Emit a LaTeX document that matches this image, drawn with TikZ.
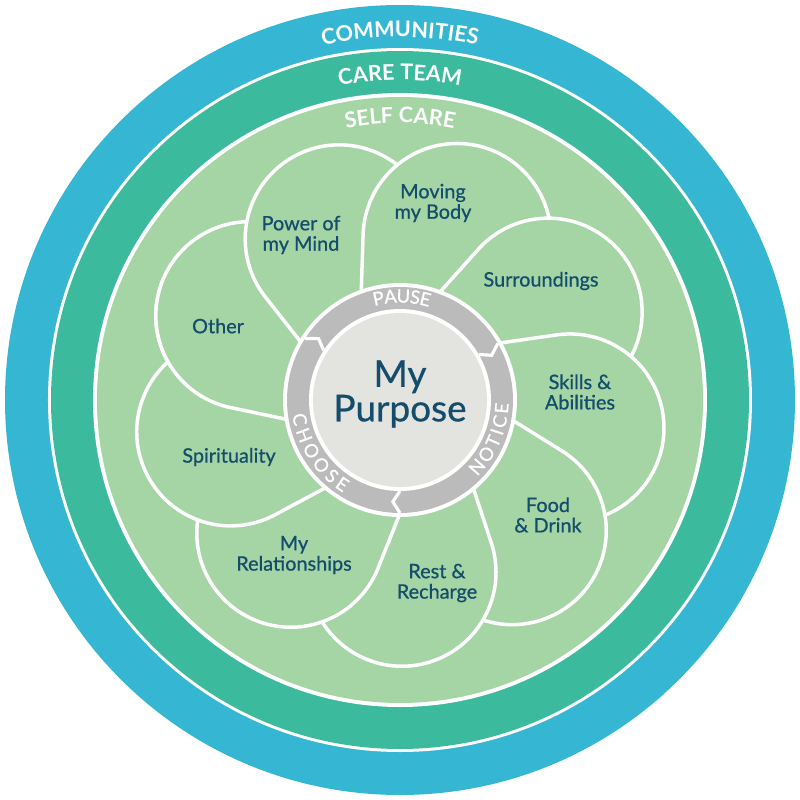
\documentclass[tikz,border=0pt]{standalone}
\usepackage{fontspec}
\setmainfont{Lato}
\newfontfamily\medfont{Lato}[FakeBold=0.7]
\usetikzlibrary{decorations.text}
\definecolor{commblue}{RGB}{53,183,211}
\definecolor{careteal}{RGB}{59,186,157}
\definecolor{selfgreen}{RGB}{165,212,165}
\definecolor{ringgray}{RGB}{187,187,187}
\definecolor{discgray}{RGB}{227,227,223}
\definecolor{ink}{RGB}{20,76,108}
\newcommand{\petalpath}{(35.5:116) -- (149.7,81.3) arc[start angle=103.7,end angle=-125,radius=94] -- (-15:108) arc[start angle=-15,end angle=35.5,radius=108] -- cycle}
\tikzset{petal/.style={fill=selfgreen,draw=white,line width=2pt,line join=round},
 lbl/.style={align=center,text=ink,font=\medfont\fontsize{11.3}{11.6}\selectfont},
 rtxt/.style={text=white,inner sep=0pt,font=\medfont\fontsize{10.5}{11}\selectfont},
 band/.style={decorate,decoration={text along path,text align=center,text color=white,
   text={|\bfseries\fontsize{12.3}{13}\selectfont|#1}}},
 notch/.style={draw=white,line width=1.8pt,line join=miter}}

\begin{document}
\begin{tikzpicture}[x=0.2mm,y=0.2mm]
\useasboundingbox (-400,-400) rectangle (400,400);
% rings
\fill[commblue] (0,0) circle[radius=395];\fill[white] (0,0) circle[radius=352];
\fill[careteal] (0,0) circle[radius=349];\fill[white] (0,0) circle[radius=307];
\fill[selfgreen] (0,0) circle[radius=303];
\path[band=COMMUNITIES] (135:363) arc[start angle=135,end angle=45,radius=363];
\path[band=CARE TEAM] (135:320) arc[start angle=135,end angle=45,radius=320];
\path[band=SELF CARE] (135:277) arc[start angle=135,end angle=45,radius=277];
% petals, each one over its neighbour
\foreach \a in {154,114,...,-166} \draw[petal,rotate=\a] \petalpath;
\begin{scope}
\clip (0,0) -- (153:330) arc[start angle=153,end angle=260,radius=330] -- cycle;
\draw[petal,rotate=154] \petalpath;
\end{scope}
% centre
\fill[white] (0,0) circle[radius=117];\fill[ringgray] (0,0) circle[radius=113];
\fill[white] (0,0) circle[radius=91];\fill[discgray] (0,0) circle[radius=87];
\foreach \a in {147,30,-90} \draw[notch] (\a:113) -- ({\a-4}:102) -- (\a:91);
\foreach \ch/\a in {P/102,A/95.3,U/88.1,S/81.6,E/75.9} \node[rtxt,rotate=\a-90] (pause\ch) at (\a:104) {\ch};
\foreach \ch/\a [count=\i] in {N/-41,O/-32.1,T/-23.9,I/-18.2,C/-12.2,E/-4.6} \node[rtxt,rotate=\a+90] (notice\i) at (\a:102) {\ch};
\foreach \ch/\a [count=\i] in {C/191,H/200.2,O/209.8,O/219.6,S/228.1,E/235.6} \node[rtxt,rotate=\a+90] (choose\i) at (\a:102) {\ch};
\node[text=ink,align=center,font=\medfont\fontsize{21}{18}\selectfont] (purpose) at (0,6) {My\\Purpose};
% labels
\node[lbl] (mind) at (-99,165) {Power of\\my Mind};
\node[lbl] (body) at (33,197) {Moving\\my Body};
\node[lbl] (surr) at (141,119) {Surroundings};
\node[lbl] (skills) at (180,8) {Skills \&\\Abilities};
\node[lbl] (food) at (148,-115) {Food\\\& Drink};
\node[lbl] (rest) at (37,-183) {Rest \&\\Recharge};
\node[lbl] (rel) at (-106,-155) {My\\Relationships};
\node[lbl] (spirit) at (-171,-57) {Spirituality};
\node[lbl] (other) at (-182,74) {Other};
\end{tikzpicture}
\end{document}
